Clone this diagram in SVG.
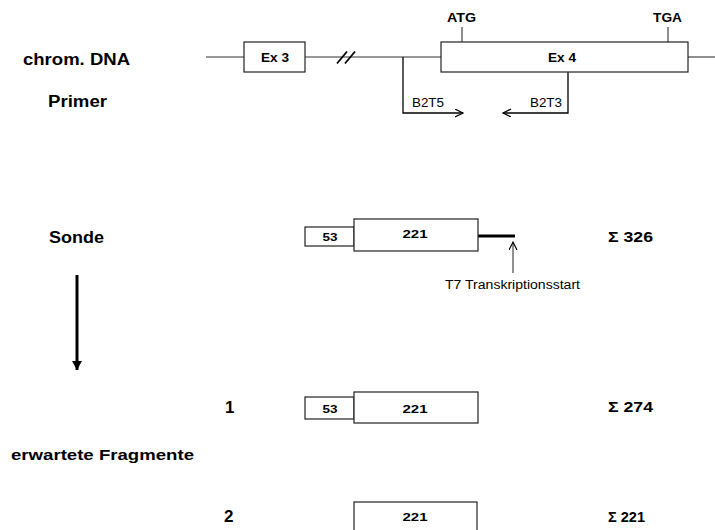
<svg xmlns="http://www.w3.org/2000/svg" width="715" height="530" viewBox="0 0 715 530">
<defs>
<style>
.b{font-family:"Liberation Sans",Arial,sans-serif;font-weight:bold;fill:#000}
.n{font-family:"Liberation Sans",Arial,sans-serif;fill:#000}
.box{fill:#fff;stroke:#222;stroke-width:1.2}
.ln{fill:none;stroke:#333;stroke-width:1.1}
.lbl{font-size:16px}
.sm{font-size:11px}
.sig{font-size:14px}
</style>
<marker id="openR" markerWidth="10" markerHeight="10" refX="8" refY="4" orient="auto" markerUnits="userSpaceOnUse">
<path d="M0,0 L8,4 L0,8" fill="none" stroke="#000" stroke-width="1.2"/>
</marker>
<marker id="filled" markerWidth="12" markerHeight="10" refX="9" refY="5" orient="auto" markerUnits="userSpaceOnUse">
<path d="M0,0 L9,5 L0,10 Z" fill="#000"/>
</marker>
</defs>
<rect width="715" height="530" fill="#fff"/>

<g id="labels">
<text class="b lbl" x="23" y="65" textLength="107" lengthAdjust="spacingAndGlyphs">chrom. DNA</text>
<text class="b lbl" x="48" y="107" textLength="59" lengthAdjust="spacingAndGlyphs">Primer</text>
<text class="b lbl" x="49" y="243" textLength="55" lengthAdjust="spacingAndGlyphs">Sonde</text>
<text class="b" font-size="15" x="11" y="460" textLength="183" lengthAdjust="spacingAndGlyphs">erwartete Fragmente</text>
<text class="b" font-size="17" x="225" y="413">1</text>
<text class="b" font-size="17" x="224" y="522">2</text>
</g>

<g id="connectors">
<line class="ln" x1="206" y1="57" x2="244" y2="57"/>
<line class="ln" x1="305" y1="57" x2="441" y2="57"/>
<line class="ln" x1="688" y1="57" x2="715" y2="57"/>
<line x1="337" y1="63.5" x2="347" y2="51.5" stroke="#000" stroke-width="1.8"/>
<line x1="345" y1="63.5" x2="355" y2="51.5" stroke="#000" stroke-width="1.8"/>
<line class="ln" x1="462" y1="27" x2="462" y2="42"/>
<line class="ln" x1="668" y1="27" x2="668" y2="42"/>
<polyline points="403,57 403,113 463,113" fill="none" stroke="#000" stroke-width="1.3" marker-end="url(#openR)"/>
<polyline points="568,72 568,113 503,113" fill="none" stroke="#000" stroke-width="1.3" marker-end="url(#openR)"/>
<line x1="478" y1="236" x2="515" y2="236" stroke="#000" stroke-width="3.2"/>
<line x1="513" y1="273" x2="513" y2="242" stroke="#333" stroke-width="1.1" marker-end="url(#openR)"/>
<line x1="77" y1="275" x2="77" y2="370" stroke="#000" stroke-width="3" marker-end="url(#filled)"/>
</g>

<g id="ex3">
<rect class="box" x="244" y="42" width="61" height="30"/>
<text class="b" font-size="12" x="275" y="62" text-anchor="middle" textLength="28" lengthAdjust="spacingAndGlyphs">Ex 3</text>
</g>
<g id="ex4">
<rect class="box" x="441" y="42" width="247" height="30"/>
<text class="b" font-size="12" x="562" y="62" text-anchor="middle" textLength="28" lengthAdjust="spacingAndGlyphs">Ex 4</text>
</g>
<g id="atg">
<text class="b" font-size="12" x="447" y="22" textLength="29" lengthAdjust="spacingAndGlyphs">ATG</text>
</g>
<g id="tga">
<text class="b" font-size="12" x="653" y="22" textLength="29" lengthAdjust="spacingAndGlyphs">TGA</text>
</g>
<g id="b2t5">
<text class="n" font-size="12" x="412" y="107" textLength="32" lengthAdjust="spacingAndGlyphs">B2T5</text>
</g>
<g id="b2t3">
<text class="n" font-size="12" x="530" y="107" textLength="32" lengthAdjust="spacingAndGlyphs">B2T3</text>
</g>

<g id="sonde">
<rect class="box" x="305" y="227" width="49" height="19"/>
<rect class="box" x="354" y="219" width="124" height="32"/>
<text class="b" font-size="11" x="330" y="241" text-anchor="middle" textLength="15" lengthAdjust="spacingAndGlyphs">53</text>
<text class="b" font-size="11" x="415" y="238" text-anchor="middle" textLength="25" lengthAdjust="spacingAndGlyphs">221</text>
<text class="b sig" x="608" y="242" textLength="45" lengthAdjust="spacingAndGlyphs">Σ 326</text>
</g>
<g id="t7">
<text class="n" font-size="12" x="445" y="289" textLength="135" lengthAdjust="spacingAndGlyphs">T7 Transkriptionsstart</text>
</g>

<g id="fragment1">
<rect class="box" x="305" y="397" width="49" height="22"/>
<rect class="box" x="354" y="392" width="124" height="31"/>
<text class="b" font-size="11" x="330" y="413" text-anchor="middle" textLength="15" lengthAdjust="spacingAndGlyphs">53</text>
<text class="b" font-size="11" x="415" y="413" text-anchor="middle" textLength="25" lengthAdjust="spacingAndGlyphs">221</text>
<text class="b sig" x="608" y="412" textLength="45" lengthAdjust="spacingAndGlyphs">Σ 274</text>
</g>

<g id="fragment2">
<rect class="box" x="354" y="502" width="123" height="35"/>
<text class="b" font-size="11" x="415" y="521" text-anchor="middle" textLength="25" lengthAdjust="spacingAndGlyphs">221</text>
<text class="b sig" x="608" y="522" textLength="37" lengthAdjust="spacingAndGlyphs">Σ 221</text>
</g>
</svg>
